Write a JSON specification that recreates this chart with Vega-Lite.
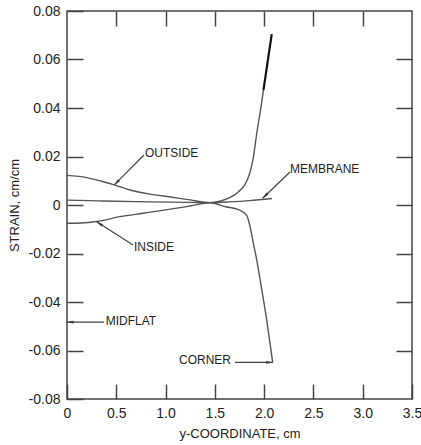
{
  "$schema": "https://vega.github.io/schema/vega-lite/v6.json",
  "width": 345,
  "height": 388,
  "autosize": {"type": "none"},
  "padding": {"left": 67, "top": 11, "right": 9, "bottom": 46},
  "background": "white",
  "config": {"view": {"stroke": "#444", "strokeWidth": 1.5}, "font": "Liberation Sans"},
  "datasets": {
    "curves": [
      {"series": "outside", "x": 0, "y": 0.0122},
      {"series": "outside", "x": 0.2, "y": 0.0113},
      {"series": "outside", "x": 0.35, "y": 0.0098},
      {"series": "outside", "x": 0.48, "y": 0.0083},
      {"series": "outside", "x": 0.64, "y": 0.0062},
      {"series": "outside", "x": 0.84, "y": 0.0045},
      {"series": "outside", "x": 1.05, "y": 0.0033},
      {"series": "outside", "x": 1.25, "y": 0.0021},
      {"series": "outside", "x": 1.45, "y": 0.001},
      {"series": "outside", "x": 1.65, "y": 0.003},
      {"series": "outside", "x": 1.74, "y": 0.0055},
      {"series": "outside", "x": 1.806, "y": 0.0085},
      {"series": "outside", "x": 1.857, "y": 0.0135},
      {"series": "outside", "x": 1.89, "y": 0.0195},
      {"series": "outside", "x": 1.925, "y": 0.0295},
      {"series": "outside", "x": 1.968, "y": 0.0404},
      {"series": "outside", "x": 1.993, "y": 0.0474},
      {"series": "inside", "x": 0, "y": -0.0075},
      {"series": "inside", "x": 0.15, "y": -0.0074},
      {"series": "inside", "x": 0.3, "y": -0.0068},
      {"series": "inside", "x": 0.54, "y": -0.0048},
      {"series": "inside", "x": 0.77, "y": -0.0034},
      {"series": "inside", "x": 1.05, "y": -0.0017},
      {"series": "inside", "x": 1.25, "y": -0.0004},
      {"series": "inside", "x": 1.45, "y": 0.0009},
      {"series": "inside", "x": 1.61, "y": -0.0007},
      {"series": "inside", "x": 1.74, "y": -0.0019},
      {"series": "inside", "x": 1.823, "y": -0.0043},
      {"series": "inside", "x": 1.857, "y": -0.0089},
      {"series": "inside", "x": 1.89, "y": -0.0157},
      {"series": "inside", "x": 1.925, "y": -0.0227},
      {"series": "inside", "x": 1.958, "y": -0.0305},
      {"series": "inside", "x": 2.026, "y": -0.0474},
      {"series": "inside", "x": 2.087, "y": -0.065},
      {"series": "membrane", "x": 0, "y": 0.002},
      {"series": "membrane", "x": 0.33, "y": 0.0017},
      {"series": "membrane", "x": 0.84, "y": 0.0013},
      {"series": "membrane", "x": 1.25, "y": 0.0011},
      {"series": "membrane", "x": 1.45, "y": 0.001},
      {"series": "membrane", "x": 1.65, "y": 0.0013},
      {"series": "membrane", "x": 1.85, "y": 0.0018},
      {"series": "membrane", "x": 2.08, "y": 0.0027},
      {"series": "outside_end", "x": 1.993, "y": 0.0474},
      {"series": "outside_end", "x": 2.077, "y": 0.0705}
    ],
    "arrows": [
      {"label": "OUTSIDE", "x1": 0.781, "y1": 0.0206, "x2": 0.48, "y2": 0.0083},
      {"label": "MEMBRANE", "x1": 2.262, "y1": 0.0136, "x2": 1.985, "y2": 0.0028},
      {"label": "INSIDE", "x1": 0.67, "y1": -0.0165, "x2": 0.301, "y2": -0.0069},
      {"label": "CORNER", "x1": 1.704, "y1": -0.0649, "x2": 2.087, "y2": -0.0649},
      {"label": "MIDFLAT", "x1": 0.376, "y1": -0.0483, "x2": 0.0, "y2": -0.0483}
    ],
    "labels": [
      {"text": "OUTSIDE", "x": 0.791, "y": 0.0216},
      {"text": "MEMBRANE", "x": 2.262, "y": 0.0147},
      {"text": "INSIDE", "x": 0.68, "y": -0.0174},
      {"text": "CORNER", "x": 1.136, "y": -0.0639},
      {"text": "MIDFLAT", "x": 0.393, "y": -0.048}
    ]
  },
  "resolve": {"axis": {"x": "independent", "y": "independent"}},
  "layer": [
    {
      "data": {"name": "curves"},
      "transform": [{"filter": "datum.series != 'outside_end'"}],
      "mark": {"type": "line", "color": "#555", "strokeWidth": 1.4, "interpolate": "monotone"},
      "encoding": {
        "x": {
          "field": "x", "type": "quantitative",
          "scale": {"domain": [0, 3.5], "nice": false, "zero": false},
          "axis": {
            "orient": "bottom", "values": [0, 0.5, 1, 1.5, 2, 2.5, 3, 3.5],
            "labelExpr": "datum.value == 0 ? '0' : format(datum.value, '.1f')",
            "domain": false, "grid": false, "tickSize": -15, "tickColor": "#444", "tickWidth": 1.5,
            "labelPadding": 22, "labelFontSize": 14, "labelColor": "#222", "labelFlush": false, "labelOverlap": false,
            "title": "y-COORDINATE, cm", "titleFontSize": 13, "titleFontWeight": "normal", "titleColor": "#222",
            "titleX": 172.5, "titleY": 34, "titleBaseline": "middle"
          }
        },
        "y": {
          "field": "y", "type": "quantitative",
          "scale": {"domain": [-0.08, 0.08], "nice": false, "zero": false},
          "axis": {
            "orient": "left", "values": [-0.08, -0.06, -0.04, -0.02, 0, 0.02, 0.04, 0.06, 0.08],
            "labelExpr": "datum.value == 0 ? '0' : (datum.value < 0 ? '-' + format(-datum.value, '.2f') : format(datum.value, '.2f'))",
            "domain": false, "grid": false, "tickSize": -16, "tickColor": "#444", "tickWidth": 1.5,
            "labelPadding": 23, "labelFontSize": 14, "labelColor": "#222", "labelFlush": false, "labelOverlap": false,
            "title": "STRAIN, cm/cm", "titleFontSize": 13, "titleFontWeight": "normal", "titleColor": "#222",
            "titleX": -53, "titleY": 194, "titleAngle": -90, "titleBaseline": "middle", "titleAlign": "center"
          }
        },
        "detail": {"field": "series", "type": "nominal"}
      }
    },
    {
      "data": {"name": "curves"},
      "transform": [{"filter": "datum.series == 'outside_end'"}],
      "mark": {"type": "line", "color": "#111", "strokeWidth": 2.2},
      "encoding": {
        "x": {
          "field": "x", "type": "quantitative",
          "axis": {
            "orient": "top", "values": [0.5, 1, 1.5, 2, 2.5, 3], "labels": false,
            "domain": false, "grid": false, "tickSize": -15, "tickColor": "#444", "tickWidth": 1.5, "title": null
          }
        },
        "y": {
          "field": "y", "type": "quantitative",
          "axis": {
            "orient": "right", "values": [-0.06, -0.04, -0.02, 0, 0.02, 0.04, 0.06], "labels": false,
            "domain": false, "grid": false, "tickSize": -16, "tickColor": "#444", "tickWidth": 1.5, "title": null
          }
        }
      }
    },
    {
      "data": {"name": "arrows"},
      "mark": {"type": "rule", "color": "#444", "strokeWidth": 1.2},
      "encoding": {
        "x": {"field": "x1", "type": "quantitative", "axis": null},
        "y": {"field": "y1", "type": "quantitative", "axis": null},
        "x2": {"field": "x2"},
        "y2": {"field": "y2"}
      }
    },
    {
      "data": {"name": "arrows"},
      "transform": [{"filter": "datum.label == 'OUTSIDE' || datum.label == 'MEMBRANE'"}],
      "mark": {"type": "point", "filled": true, "color": "#333", "opacity": 1, "size": 36, "shape": "M0,0L0.45,2.2L-0.45,2.2Z", "angle": 225},
      "encoding": {
        "x": {"field": "x2", "type": "quantitative", "axis": null},
        "y": {"field": "y2", "type": "quantitative", "axis": null}
      }
    },
    {
      "data": {"name": "arrows"},
      "transform": [{"filter": "datum.label == 'INSIDE'"}],
      "mark": {"type": "point", "filled": true, "color": "#333", "opacity": 1, "size": 36, "shape": "M0,0L0.45,2.2L-0.45,2.2Z", "angle": 302.7},
      "encoding": {
        "x": {"field": "x2", "type": "quantitative", "axis": null},
        "y": {"field": "y2", "type": "quantitative", "axis": null}
      }
    },
    {
      "data": {"name": "arrows"},
      "transform": [{"filter": "datum.label == 'CORNER'"}],
      "mark": {"type": "point", "filled": true, "color": "#333", "opacity": 1, "size": 36, "shape": "M0,0L0.45,2.2L-0.45,2.2Z", "angle": 90},
      "encoding": {
        "x": {"field": "x2", "type": "quantitative", "axis": null},
        "y": {"field": "y2", "type": "quantitative", "axis": null}
      }
    },
    {
      "data": {"name": "arrows"},
      "transform": [{"filter": "datum.label == 'MIDFLAT'"}],
      "mark": {"type": "point", "filled": true, "color": "#333", "opacity": 1, "size": 36, "shape": "M0,0L0.45,2.2L-0.45,2.2Z", "angle": 270},
      "encoding": {
        "x": {"field": "x2", "type": "quantitative", "axis": null},
        "y": {"field": "y2", "type": "quantitative", "axis": null}
      }
    },
    {
      "data": {"name": "labels"},
      "mark": {"type": "text", "align": "left", "baseline": "middle", "fontSize": 12, "color": "#222", "font": "Liberation Sans"},
      "encoding": {
        "x": {"field": "x", "type": "quantitative", "axis": null},
        "y": {"field": "y", "type": "quantitative", "axis": null},
        "text": {"field": "text", "type": "nominal"}
      }
    }
  ]
}
